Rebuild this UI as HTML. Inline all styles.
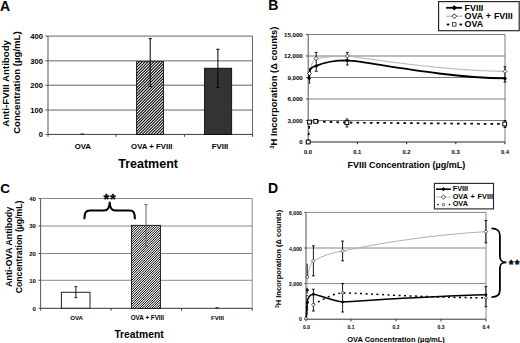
<!DOCTYPE html>
<html><head><meta charset="utf-8">
<style>
html,body{margin:0;padding:0;background:#fff;width:520px;height:343px;overflow:hidden}
svg{display:block}
text{font-family:"Liberation Sans",sans-serif;font-weight:bold;fill:#000}
</style></head>
<body>
<svg width="520" height="343" viewBox="0 0 520 343">
<defs>
<pattern id="hA" patternUnits="userSpaceOnUse" width="2.05" height="2.05" patternTransform="rotate(45)">
<rect width="2.05" height="2.05" fill="#fff"/><rect width="1.05" height="2.05" fill="#000"/>
</pattern>
<pattern id="hC" patternUnits="userSpaceOnUse" width="1.7" height="1.7" patternTransform="rotate(45)">
<rect width="1.7" height="1.7" fill="#fff"/><rect width="0.85" height="1.7" fill="#000"/>
</pattern>
<clipPath id="cA"><rect x="136.6" y="61.7" width="27" height="72.7"/></clipPath>
<clipPath id="cC"><rect x="131.5" y="225.3" width="29" height="83"/></clipPath>
</defs>

<!-- ================= PANEL A ================= -->
<g id="A">
<text x="0" y="10.7" font-size="14">A</text>
<!-- gridlines -->
<g stroke="#656565" stroke-width="1">
<line x1="48" y1="36.1" x2="252.5" y2="36.1"/>
<line x1="48" y1="60.85" x2="252.5" y2="60.85"/>
<line x1="48" y1="85.2" x2="252.5" y2="85.2"/>
<line x1="48" y1="110.05" x2="252.5" y2="110.05"/>
<line x1="252.5" y1="36.1" x2="252.5" y2="134.4"/>
</g>
<g stroke="#555" stroke-width="1">
<line x1="48" y1="36.1" x2="48" y2="136.8"/>
<line x1="45.3" y1="36.1" x2="48" y2="36.1"/>
<line x1="45.3" y1="60.85" x2="48" y2="60.85"/>
<line x1="45.3" y1="85.3" x2="48" y2="85.3"/>
<line x1="45.3" y1="110.05" x2="48" y2="110.05"/>
<line x1="45.3" y1="134.4" x2="48" y2="134.4"/>
</g>
<g stroke="#3a3a3a" stroke-width="1">
<line x1="48" y1="134.4" x2="252.5" y2="134.4"/>
<line x1="116.2" y1="134.4" x2="116.2" y2="136.8"/>
<line x1="184.4" y1="134.4" x2="184.4" y2="136.8"/>
<line x1="252.5" y1="134.4" x2="252.5" y2="136.8"/>
</g>
<!-- bars -->
<rect x="80.5" y="133.6" width="3.5" height="0.8" fill="#000"/>
<rect x="136.6" y="61.7" width="27" height="72.7" fill="#fff"/><path clip-path="url(#cA)" d="M62.90,135.40L137.60,60.70M65.80,135.40L140.50,60.70M68.70,135.40L143.40,60.70M71.60,135.40L146.30,60.70M74.50,135.40L149.20,60.70M77.40,135.40L152.10,60.70M80.30,135.40L155.00,60.70M83.20,135.40L157.90,60.70M86.10,135.40L160.80,60.70M89.00,135.40L163.70,60.70M91.90,135.40L166.60,60.70M94.80,135.40L169.50,60.70M97.70,135.40L172.40,60.70M100.60,135.40L175.30,60.70M103.50,135.40L178.20,60.70M106.40,135.40L181.10,60.70M109.30,135.40L184.00,60.70M112.20,135.40L186.90,60.70M115.10,135.40L189.80,60.70M118.00,135.40L192.70,60.70M120.90,135.40L195.60,60.70M123.80,135.40L198.50,60.70M126.70,135.40L201.40,60.70M129.60,135.40L204.30,60.70M132.50,135.40L207.20,60.70M135.40,135.40L210.10,60.70M138.30,135.40L213.00,60.70M141.20,135.40L215.90,60.70M144.10,135.40L218.80,60.70M147.00,135.40L221.70,60.70M149.90,135.40L224.60,60.70M152.80,135.40L227.50,60.70M155.70,135.40L230.40,60.70M158.60,135.40L233.30,60.70M161.50,135.40L236.20,60.70M164.40,135.40L239.10,60.70" stroke="#000" stroke-width="1.05" fill="none"/><rect x="136.6" y="61.7" width="27" height="72.7" fill="none" stroke="#000" stroke-width="0.8"/>
<rect x="204.5" y="68.2" width="27.2" height="66.2" fill="#333" stroke="#000" stroke-width="0.8"/>
<!-- error bars -->
<g stroke="#000" stroke-width="1">
<line x1="150.2" y1="38.6" x2="150.2" y2="86.5"/>
<line x1="148.6" y1="38.6" x2="151.8" y2="38.6"/>
<line x1="148.6" y1="86.5" x2="151.8" y2="86.5"/>
<line x1="217.9" y1="49.3" x2="217.9" y2="87.4"/>
<line x1="216.3" y1="49.3" x2="219.5" y2="49.3"/>
<line x1="216.3" y1="87.4" x2="219.5" y2="87.4"/>
</g>
<!-- tick labels -->
<g font-size="7.6" text-anchor="end">
<text x="42.9" y="38.9">400</text>
<text x="42.9" y="63.5">300</text>
<text x="42.9" y="88.1">200</text>
<text x="42.9" y="112.7">100</text>
<text x="42.9" y="137.2">0</text>
</g>
<g font-size="7.8" text-anchor="middle">
<text x="82.8" y="148.7">OVA</text>
<text x="151.8" y="148.7">OVA + FVIII</text>
<text x="220" y="148.7">FVIII</text>
</g>
<text x="148.1" y="168.4" font-size="12.5" text-anchor="middle">Treatment</text>
<text transform="translate(8.8,83.4) rotate(-90)" font-size="9.7" text-anchor="middle">Anti-FVIII Antibody</text>
<text transform="translate(20.4,82.6) rotate(-90)" font-size="9.6" text-anchor="middle">Concentration (µg/mL)</text>
</g>

<!-- ================= PANEL B ================= -->
<g id="B">
<text x="268.3" y="10" font-size="14">B</text>
<g stroke="#7a7a7a" stroke-width="1">
<line x1="308.2" y1="34.5" x2="505" y2="34.5"/>
<line x1="308.2" y1="56" x2="505" y2="56"/>
<line x1="308.2" y1="77.5" x2="505" y2="77.5"/>
<line x1="308.2" y1="99" x2="505" y2="99"/>
<line x1="308.2" y1="120.5" x2="505" y2="120.5"/>
<line x1="505" y1="34.5" x2="505" y2="142"/>
</g>
<g stroke="#555" stroke-width="1">
<line x1="308.2" y1="34.5" x2="308.2" y2="144.2"/>
<line x1="305.8" y1="34.5" x2="308.2" y2="34.5"/>
<line x1="305.8" y1="56" x2="308.2" y2="56"/>
<line x1="305.8" y1="77.5" x2="308.2" y2="77.5"/>
<line x1="305.8" y1="99" x2="308.2" y2="99"/>
<line x1="305.8" y1="120.5" x2="308.2" y2="120.5"/>
<line x1="305.8" y1="142" x2="308.2" y2="142"/>
</g>
<g stroke="#222" stroke-width="1">
<line x1="308.2" y1="142" x2="505" y2="142"/>
<line x1="357.4" y1="142" x2="357.4" y2="144.2"/>
<line x1="406.6" y1="142" x2="406.6" y2="144.2"/>
<line x1="455.8" y1="142" x2="455.8" y2="144.2"/>
<line x1="505" y1="142" x2="505" y2="144.2"/>
</g>
<g font-size="6.1" text-anchor="end">
<text x="302.7" y="36.8">15,000</text>
<text x="302.7" y="58.3">12,000</text>
<text x="302.7" y="79.8">9,000</text>
<text x="302.7" y="101.3">6,000</text>
<text x="302.7" y="122.8">3,000</text>
<text x="302.7" y="144.3">0</text>
</g>
<g font-size="5.9" text-anchor="middle">
<text x="308" y="153.8">0.0</text>
<text x="357.3" y="153.8">0.1</text>
<text x="406.5" y="153.8">0.2</text>
<text x="455.7" y="153.8">0.3</text>
<text x="505" y="153.8">0.4</text>
</g>
<text x="406.4" y="167.8" font-size="9" text-anchor="middle">FVIII Concentration (µg/mL)</text>
<text transform="translate(277.2,87.7) rotate(-90)" font-size="9.4" text-anchor="middle"><tspan font-size="6" dy="-3">3</tspan><tspan dy="3">H Incorporation (Δ counts)</tspan></text>

<!-- series -->
<path d="M309.6,73.5 C311,65 313.5,59 316,58.6 C325,57 338,56 347.3,56 C368,58.5 440,70.5 505,71.4" fill="none" stroke="#b4b4b4" stroke-width="1"/>
<path d="M309,78.3 L309.9,70.3 C311,68 313,66.5 316.1,65.9 C326,61.5 338,60.4 347.3,60.4 C368,61.5 440,77.5 505,78.4" fill="none" stroke="#000" stroke-width="1.8"/>
<path d="M308.2,142 L309.5,122.1 L315.7,121.4 L346.9,122.6 L504.7,124" fill="none" stroke="#000" stroke-width="1.7" stroke-dasharray="2.6,4.1"/>
<!-- error bars -->
<g stroke="#000" stroke-width="0.9">
<line x1="316.2" y1="52.4" x2="316.2" y2="71.3"/><line x1="314.8" y1="52.4" x2="317.6" y2="52.4"/><line x1="314.8" y1="71.3" x2="317.6" y2="71.3"/>
<line x1="347.3" y1="52.4" x2="347.3" y2="65"/><line x1="345.9" y1="52.4" x2="348.7" y2="52.4"/><line x1="345.9" y1="65" x2="348.7" y2="65"/>
<line x1="505" y1="66.8" x2="505" y2="82"/><line x1="503.6" y1="66.8" x2="506.4" y2="66.8"/><line x1="503.6" y1="82" x2="506.4" y2="82"/>
<line x1="347" y1="119" x2="347" y2="127"/><line x1="345.6" y1="119" x2="348.4" y2="119"/><line x1="345.6" y1="127" x2="348.4" y2="127"/>
<line x1="505" y1="120.5" x2="505" y2="127.5"/><line x1="503.6" y1="120.5" x2="506.4" y2="120.5"/><line x1="503.6" y1="127.5" x2="506.4" y2="127.5"/>
<line x1="309.6" y1="68" x2="309.6" y2="84"/>
</g>
<!-- markers -->
<g fill="#000">
<path d="M309.1,76.3 l2,2 l-2,2 l-2,-2z"/>
<path d="M316.3,63.9 l2,2 l-2,2 l-2,-2z"/>
<path d="M347.3,58.4 l2,2 l-2,2 l-2,-2z"/>
<path d="M505,76.4 l2,2 l-2,2 l-2,-2z"/>
</g>
<g fill="#fff" stroke="#000" stroke-width="0.7">
<path d="M309.6,71.5 l2,2 l-2,2 l-2,-2z"/>
<path d="M316,56.6 l2,2 l-2,2 l-2,-2z"/>
<path d="M347.3,54 l2,2 l-2,2 l-2,-2z"/>
<path d="M505,69.4 l2,2 l-2,2 l-2,-2z"/>
<rect x="306.3" y="140.1" width="3.8" height="3.8" stroke-width="1"/>
<rect x="307.6" y="120.2" width="3.8" height="3.8" stroke-width="1"/>
<rect x="313.8" y="119.5" width="3.8" height="3.8" stroke-width="1"/>
<rect x="345" y="120.7" width="3.8" height="3.8" stroke-width="1"/>
<rect x="502.8" y="122.1" width="3.8" height="3.8" stroke-width="1"/>
</g>
<!-- legend -->
<rect x="438.6" y="1.6" width="80.6" height="29.1" fill="#fff" stroke="#222" stroke-width="1.15"/>
<line x1="446.1" y1="7.8" x2="462" y2="7.8" stroke="#000" stroke-width="1.8"/>
<path d="M454.3,5.2 l2.6,2.6 l-2.6,2.6 l-2.6,-2.6z" fill="#000"/>
<line x1="446.1" y1="16.2" x2="462" y2="16.2" stroke="#aaa" stroke-width="1"/>
<path d="M454.3,13.8 l2.4,2.4 l-2.4,2.4 l-2.4,-2.4z" fill="#fff" stroke="#000" stroke-width="0.8"/>
<line x1="446.8" y1="24.5" x2="449.3" y2="24.5" stroke="#000" stroke-width="1.8"/>
<line x1="459.5" y1="24.5" x2="462" y2="24.5" stroke="#000" stroke-width="1.8"/>
<rect x="452.6" y="22.7" width="3.4" height="3.4" fill="#fff" stroke="#000" stroke-width="0.7"/>
<g font-size="8.9">
<text x="464.6" y="10.8">FVIII</text>
<text x="464.6" y="19" word-spacing="0.5">OVA + FVIII</text>
<text x="464.6" y="27.2">OVA</text>
</g>
</g>

<!-- ================= PANEL C ================= -->
<g id="C">
<text x="0.2" y="192.6" font-size="13.6">C</text>
<g stroke="#8a8a8a" stroke-width="1">
<line x1="40.6" y1="198.5" x2="252.2" y2="198.5"/>
<line x1="40.6" y1="226" x2="252.2" y2="226"/>
<line x1="40.6" y1="253.5" x2="252.2" y2="253.5"/>
<line x1="40.6" y1="280.3" x2="252.2" y2="280.3"/>
<line x1="252.2" y1="198.5" x2="252.2" y2="308.3"/>
</g>
<g stroke="#555" stroke-width="1">
<line x1="40.6" y1="198.5" x2="40.6" y2="310.6"/>
<line x1="38.4" y1="198.5" x2="40.6" y2="198.5"/>
<line x1="38.4" y1="226" x2="40.6" y2="226"/>
<line x1="38.4" y1="253.5" x2="40.6" y2="253.5"/>
<line x1="38.4" y1="280.3" x2="40.6" y2="280.3"/>
<line x1="38.4" y1="308.3" x2="40.6" y2="308.3"/>
</g>
<g stroke="#333" stroke-width="1">
<line x1="40.6" y1="308.3" x2="252.2" y2="308.3"/>
<line x1="111.1" y1="308.3" x2="111.1" y2="310.6"/>
<line x1="181.6" y1="308.3" x2="181.6" y2="310.6"/>
<line x1="252.2" y1="308.3" x2="252.2" y2="310.6"/>
</g>
<rect x="61.4" y="292.3" width="28.6" height="15.9" fill="#fff" stroke="#222" stroke-width="1"/>
<rect x="131.5" y="225.3" width="29" height="83" fill="#fff"/><path clip-path="url(#cC)" d="M47.50,309.30L132.50,224.30M49.90,309.30L134.90,224.30M52.30,309.30L137.30,224.30M54.70,309.30L139.70,224.30M57.10,309.30L142.10,224.30M59.50,309.30L144.50,224.30M61.90,309.30L146.90,224.30M64.30,309.30L149.30,224.30M66.70,309.30L151.70,224.30M69.10,309.30L154.10,224.30M71.50,309.30L156.50,224.30M73.90,309.30L158.90,224.30M76.30,309.30L161.30,224.30M78.70,309.30L163.70,224.30M81.10,309.30L166.10,224.30M83.50,309.30L168.50,224.30M85.90,309.30L170.90,224.30M88.30,309.30L173.30,224.30M90.70,309.30L175.70,224.30M93.10,309.30L178.10,224.30M95.50,309.30L180.50,224.30M97.90,309.30L182.90,224.30M100.30,309.30L185.30,224.30M102.70,309.30L187.70,224.30M105.10,309.30L190.10,224.30M107.50,309.30L192.50,224.30M109.90,309.30L194.90,224.30M112.30,309.30L197.30,224.30M114.70,309.30L199.70,224.30M117.10,309.30L202.10,224.30M119.50,309.30L204.50,224.30M121.90,309.30L206.90,224.30M124.30,309.30L209.30,224.30M126.70,309.30L211.70,224.30M129.10,309.30L214.10,224.30M131.50,309.30L216.50,224.30M133.90,309.30L218.90,224.30M136.30,309.30L221.30,224.30M138.70,309.30L223.70,224.30M141.10,309.30L226.10,224.30M143.50,309.30L228.50,224.30M145.90,309.30L230.90,224.30M148.30,309.30L233.30,224.30M150.70,309.30L235.70,224.30M153.10,309.30L238.10,224.30M155.50,309.30L240.50,224.30M157.90,309.30L242.90,224.30M160.30,309.30L245.30,224.30" stroke="#000" stroke-width="1.0" fill="none"/><rect x="131.5" y="225.3" width="29" height="83" fill="none" stroke="#000" stroke-width="0.8"/>
<rect x="215.5" y="307.3" width="3" height="1" fill="#000"/>
<g stroke="#000" stroke-width="0.9">
<line x1="75.9" y1="286.7" x2="75.9" y2="297.6"/><line x1="74.5" y1="286.7" x2="77.3" y2="286.7"/><line x1="74.5" y1="297.6" x2="77.3" y2="297.6"/>
</g>
<g stroke="#555" stroke-width="0.9">
<line x1="146" y1="204.6" x2="146" y2="246"/><line x1="144.4" y1="204.6" x2="147.6" y2="204.6"/><line x1="144.4" y1="246" x2="147.6" y2="246"/>
</g>
<!-- brace -->
<path d="M84.4,219.3 C84.4,213 85.5,210.6 90,210.6 L104,210.6 C108,210.6 109.7,207 109.7,201.8 C109.7,207 111.4,210.6 115.4,210.6 L129.4,210.6 C133.9,210.6 134.9,213 134.9,219.3" fill="none" stroke="#000" stroke-width="2"/>
<text x="103.4" y="203.6" font-size="14.6" letter-spacing="0.9" stroke="#000" stroke-width="0.3">**</text>
<g font-size="6" text-anchor="end">
<text x="35.9" y="200.7">40</text>
<text x="35.9" y="228.2">30</text>
<text x="35.9" y="255.7">20</text>
<text x="35.9" y="282.5">10</text>
<text x="35.9" y="310.5">0</text>
</g>
<g font-size="6.1" text-anchor="middle">
<text x="76.6" y="319.6">OVA</text>
<text x="147.4" y="319.6" font-size="6.3">OVA + FVIII</text>
<text x="217.5" y="319.6">FVIII</text>
</g>
<text x="139" y="338.4" font-size="10.3" text-anchor="middle">Treatment</text>
<text transform="translate(11.8,246.8) rotate(-90)" font-size="9" text-anchor="middle">Anti-OVA Antibody</text>
<text transform="translate(21.8,246.9) rotate(-90)" font-size="8.7" text-anchor="middle">Concentration (µg/mL)</text>
</g>

<!-- ================= PANEL D ================= -->
<g id="D">
<text x="268" y="192.6" font-size="14">D</text>
<g stroke="#8a8a8a" stroke-width="1">
<line x1="306" y1="212.4" x2="486" y2="212.4"/>
<line x1="306" y1="248" x2="486" y2="248"/>
<line x1="306" y1="283.6" x2="486" y2="283.6"/>
<line x1="486" y1="212.4" x2="486" y2="319.2"/>
</g>
<g stroke="#555" stroke-width="1">
<line x1="306" y1="212.4" x2="306" y2="321.4"/>
<line x1="304.2" y1="212.4" x2="306" y2="212.4"/>
<line x1="304.2" y1="248" x2="306" y2="248"/>
<line x1="304.2" y1="283.6" x2="306" y2="283.6"/>
<line x1="304.2" y1="319.2" x2="306" y2="319.2"/>
</g>
<g stroke="#333" stroke-width="1">
<line x1="306" y1="319.2" x2="486" y2="319.2"/>
<line x1="351" y1="319.2" x2="351" y2="321.4"/>
<line x1="396" y1="319.2" x2="396" y2="321.4"/>
<line x1="441" y1="319.2" x2="441" y2="321.4"/>
<line x1="486" y1="319.2" x2="486" y2="321.4"/>
</g>
<g font-size="5.2" text-anchor="end">
<text x="302" y="214.9">6,000</text>
<text x="302" y="250.5">4,000</text>
<text x="302" y="286.1">2,000</text>
<text x="302" y="321.2">0</text>
</g>
<g font-size="5" text-anchor="middle">
<text x="306.5" y="328.6">0.0</text>
<text x="351" y="328.6">0.1</text>
<text x="396" y="328.6">0.2</text>
<text x="441" y="328.6">0.3</text>
<text x="486" y="328.6">0.4</text>
</g>
<text x="396" y="341.6" font-size="7.5" text-anchor="middle">OVA Concentration (µg/mL)</text>
<text transform="translate(281.2,258.9) rotate(-90)" font-size="7.55" text-anchor="middle"><tspan font-size="5" dy="-2.5">3</tspan><tspan dy="2.5">H Incorporation (Δ counts)</tspan></text>

<!-- series -->
<path d="M306,318.8 L307.4,276.9 C309.5,268 311,262 313.3,260.9 C322,256 332,252.5 342.6,251.1 C380,243 430,235 485.9,231.7" fill="none" stroke="#b0b0b0" stroke-width="1"/>
<path d="M306.2,318.5 L307.4,300 C309,296 311,294.2 313.3,294.2 C320,295 330,300.5 342.6,302 C370,300.5 430,296 485.9,294.8" fill="none" stroke="#000" stroke-width="1.6"/>
<path d="M313.3,304.8 C322,300 332,293.5 342.6,292.9 C370,293.5 420,297.5 485.9,297.8" fill="none" stroke="#000" stroke-width="1.5" stroke-dasharray="2,3.5"/>
<g stroke="#000" stroke-width="0.9">
<line x1="313.4" y1="245.8" x2="313.4" y2="275.8"/><line x1="312" y1="245.8" x2="314.8" y2="245.8"/><line x1="312" y1="275.8" x2="314.8" y2="275.8"/>
<line x1="342.6" y1="241.1" x2="342.6" y2="260.8"/><line x1="341.2" y1="241.1" x2="344" y2="241.1"/><line x1="341.2" y1="260.8" x2="344" y2="260.8"/>
<line x1="485.9" y1="220.5" x2="485.9" y2="242.7"/><line x1="484.5" y1="220.5" x2="487.3" y2="220.5"/><line x1="484.5" y1="242.7" x2="487.3" y2="242.7"/>
<line x1="313.4" y1="289.2" x2="313.4" y2="311"/><line x1="312" y1="289.2" x2="314.8" y2="289.2"/><line x1="312" y1="311" x2="314.8" y2="311"/>
<line x1="342.6" y1="283.6" x2="342.6" y2="312"/><line x1="341.2" y1="283.6" x2="344" y2="283.6"/><line x1="341.2" y1="312" x2="344" y2="312"/>
<line x1="485.9" y1="286.6" x2="485.9" y2="306.7"/><line x1="484.5" y1="286.6" x2="487.3" y2="286.6"/><line x1="484.5" y1="306.7" x2="487.3" y2="306.7"/>
</g>
<line x1="307.2" y1="263.8" x2="307.2" y2="277" stroke="#555" stroke-width="1.6"/>
<line x1="307" y1="288" x2="307" y2="316" stroke="#000" stroke-width="1.2" stroke-dasharray="2,1.5"/>
<g fill="#000">
<circle cx="307.4" cy="290.2" r="1.3"/>
<circle cx="307.4" cy="302.2" r="1.5"/>
<circle cx="306.8" cy="307.7" r="1.1"/>
<path d="M313.4,292.4 l1.8,1.8 l-1.8,1.8 l-1.8,-1.8z"/>
<path d="M342.6,300.2 l1.8,1.8 l-1.8,1.8 l-1.8,-1.8z"/>
<path d="M485.9,293 l1.8,1.8 l-1.8,1.8 l-1.8,-1.8z"/>
</g>
<g fill="#fff" stroke="#000" stroke-width="0.6">
<circle cx="307.4" cy="276.9" r="1.4"/>
<circle cx="306" cy="318.6" r="1.4"/>
<circle cx="307.4" cy="297" r="1.3"/>
<path d="M313.3,259.1 l1.8,1.8 l-1.8,1.8 l-1.8,-1.8z"/>
<path d="M342.6,249.3 l1.8,1.8 l-1.8,1.8 l-1.8,-1.8z"/>
<path d="M485.9,229.9 l1.8,1.8 l-1.8,1.8 l-1.8,-1.8z"/>
<path d="M313.3,303 l1.8,1.8 l-1.8,1.8 l-1.8,-1.8z"/>
<circle cx="342.6" cy="292.9" r="1.3"/>
<circle cx="485.9" cy="297.8" r="1.3"/>
</g>
<!-- brace -->
<path d="M491.5,228.4 C497.5,228.4 499.9,230.5 499.9,236 L499.9,256 C499.9,260.5 501.5,262.3 506.4,262.3 C501.5,262.3 499.9,264 499.9,268.5 L499.9,290 C499.9,295 497.5,297.1 491.5,297.1" fill="none" stroke="#000" stroke-width="1.8"/>
<text x="508.8" y="268.7" font-size="12.2" letter-spacing="1.1" stroke="#000" stroke-width="0.3">**</text>
<!-- legend -->
<rect x="434.4" y="183.4" width="59.1" height="25.5" fill="#fff" stroke="#222" stroke-width="1.1"/>
<line x1="436" y1="189.2" x2="450.9" y2="189.2" stroke="#000" stroke-width="1.6"/>
<path d="M443.5,187.1 l2.1,2.1 l-2.1,2.1 l-2.1,-2.1z" fill="#000"/>
<line x1="436" y1="197.1" x2="450.9" y2="197.1" stroke="#bbb" stroke-width="1"/>
<path d="M443.5,195 l2.1,2.1 l-2.1,2.1 l-2.1,-2.1z" fill="#fff" stroke="#000" stroke-width="0.7"/>
<circle cx="438" cy="204.6" r="0.8" fill="#000"/>
<circle cx="449.5" cy="204.6" r="0.8" fill="#000"/>
<circle cx="443.5" cy="204.6" r="1.2" fill="#fff" stroke="#000" stroke-width="0.6"/>
<g font-size="7.3">
<text x="452.7" y="190.9">FVIII</text>
<text x="452.7" y="198.6" word-spacing="0.8">OVA + FVIII</text>
<text x="452.7" y="206.3">OVA</text>
</g>
</g>
</svg>
</body></html>
